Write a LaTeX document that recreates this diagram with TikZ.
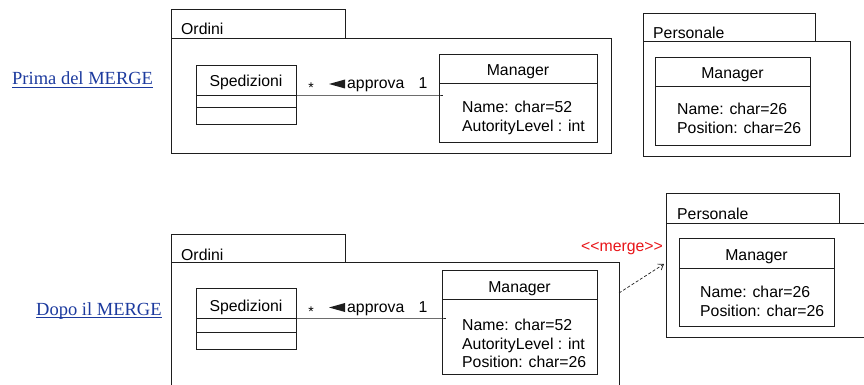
\documentclass[tikz,border=0pt]{standalone}
\usepackage{fontspec}
\setmainfont{Liberation Serif}
\setsansfont{Liberation Sans}
\usetikzlibrary{arrows.meta}
\definecolor{linkblue}{RGB}{28,58,158}
\definecolor{stereored}{RGB}{232,20,24}
\definecolor{ink}{RGB}{30,30,30}
\begin{document}
\begin{tikzpicture}[x=1pt,y=-1pt,
  frame/.style={draw=ink, line width=0.9pt, inner sep=0pt, outer sep=0pt, anchor=north west},
  lbl/.style={font=\sffamily\fontsize{15.8}{18}\selectfont, inner sep=0pt, anchor=base west},
  lblc/.style={lbl, anchor=base},
  mult/.style={font=\sffamily\fontsize{14}{16}\selectfont, inner sep=0pt, anchor=base},
  link/.style={font=\rmfamily\fontsize{18.5}{22}\selectfont, text=linkblue, inner sep=0pt, anchor=base west},
  uline/.style={draw=linkblue, line width=0.9pt},
  assoc/.style={draw=ink, line width=0.9pt},
  dir/.style={fill=ink},
  mergedep/.style={draw=ink, line width=0.7pt, dash pattern=on 3pt off 2pt, -{Straight Barb[length=5pt,width=7pt]}}
]
\useasboundingbox (0,0) rectangle (864,385);
\clip (0,0) rectangle (864,385);

% ---------- Prima del MERGE ----------
\node[link] (prima) at (12,85) {Prima del MERGE};
\draw[uline] ([yshift=-2.5pt]prima.base west) -- ([yshift=-2.5pt]prima.base east);

% package Ordini
\node[frame, minimum width=174pt, minimum height=29pt] (ordAtab) at (171,9) {};
\node[frame, minimum width=440pt, minimum height=115pt] (ordA) at (171,38) {};
\node[lbl] (ordAname) at (181,35) {Ordini};

% class Spedizioni
\node[frame, minimum width=100pt, minimum height=30pt] (spA1) at (196,65) {};
\node[frame, minimum width=100pt, minimum height=12pt] (spA2) at (196,95) {};
\node[frame, minimum width=100pt, minimum height=17pt] (spA3) at (196,107) {};
\node[lblc] (spAname) at (246,87) {Spedizioni};

% class Manager
\node[frame, minimum width=158pt, minimum height=29pt] (mgrA1) at (439,54) {};
\node[frame, minimum width=158pt, minimum height=59pt] (mgrA2) at (439,83) {};
\node[lblc] (mgrAname) at (518,76) {Manager};
\node[lbl] (mgrAat1) at (462,112.7) {Name: char=52};
\node[lbl] (mgrAat2) at (462,131.7) {AutorityLevel : int};

% association approva
\draw[assoc] (spA1.south east) -- (mgrA2.west |- spA1.south east) -- ++(4,0);
\node[mult] (multA1) at (311,93) {*};
\fill[dir] (329,84) -- (345,79.5) -- (345,88.5) -- cycle;
\node[lbl] (assocA) at (347,88.3) {approva};
\node[lblc] (multA2) at (423,88.3) {1};

% package Personale
\node[frame, minimum width=172pt, minimum height=28pt] (perAtab) at (643,13) {};
\node[frame, minimum width=207pt, minimum height=115pt] (perA) at (643,41) {};
\node[lbl] (perAname) at (653,38.3) {Personale};
\node[frame, minimum width=155pt, minimum height=29pt] (mgrC1) at (655,57) {};
\node[frame, minimum width=155pt, minimum height=59pt] (mgrC2) at (655,86) {};
\node[lblc] (mgrCname) at (732.5,78.7) {Manager};
\node[lbl] (mgrCat1) at (677,115) {Name: char=26};
\node[lbl] (mgrCat2) at (677,133) {Position: char=26};

% ---------- Dopo il MERGE ----------
\node[link] (dopo) at (36,315) {Dopo il MERGE};
\draw[uline] ([yshift=-2.8pt]dopo.base west) -- ([yshift=-2.8pt]dopo.base east);

% package Ordini
\node[frame, minimum width=174pt, minimum height=28pt] (ordBtab) at (171,234) {};
\node[frame, minimum width=448pt, minimum height=140pt] (ordB) at (171,262) {};
\node[lbl] (ordBname) at (181,260) {Ordini};

% class Spedizioni
\node[frame, minimum width=100pt, minimum height=30pt] (spB1) at (196,288) {};
\node[frame, minimum width=100pt, minimum height=14pt] (spB2) at (196,318) {};
\node[frame, minimum width=100pt, minimum height=17pt] (spB3) at (196,332) {};
\node[lblc] (spBname) at (246,311) {Spedizioni};

% class Manager
\node[frame, minimum width=155pt, minimum height=29pt] (mgrB1) at (442,270) {};
\node[frame, minimum width=155pt, minimum height=75pt] (mgrB2) at (442,299) {};
\node[lblc] (mgrBname) at (519.5,292.3) {Manager};
\node[lbl] (mgrBat1) at (462,330) {Name: char=52};
\node[lbl] (mgrBat2) at (462,349) {AutorityLevel : int};
\node[lbl] (mgrBat3) at (462,367.3) {Position: char=26};

% association approva
\draw[assoc] (spB1.south east) -- (mgrB2.west |- spB1.south east) -- ++(4,0);
\node[mult] (multB1) at (311,316.5) {*};
\fill[dir] (329,307.5) -- (345,303) -- (345,312) -- cycle;
\node[lbl] (assocB) at (347,312) {approva};
\node[lblc] (multB2) at (423,312) {1};

% package Personale
\node[frame, minimum width=173pt, minimum height=30pt] (perBtab) at (666,193) {};
\node[frame, minimum width=220pt, minimum height=114pt] (perB) at (666,223) {};
\node[lbl] (perBname) at (677,219.3) {Personale};
\node[frame, minimum width=155pt, minimum height=30pt] (mgrD1) at (679,238) {};
\node[frame, minimum width=155pt, minimum height=58pt] (mgrD2) at (679,268) {};
\node[lblc] (mgrDname) at (756.5,260) {Manager};
\node[lbl] (mgrDat1) at (700,297.3) {Name: char=26};
\node[lbl] (mgrDat2) at (700,316) {Position: char=26};

% merge dependency
\node[lbl, text=stereored] (mergelbl) at (581,251) {{<}{<}merge{>}{>}};
\draw[mergedep] ([yshift=-31pt]ordB.north east) -- ([xshift=-2pt,yshift=-41pt]perB.north west);
\end{tikzpicture}
\end{document}
